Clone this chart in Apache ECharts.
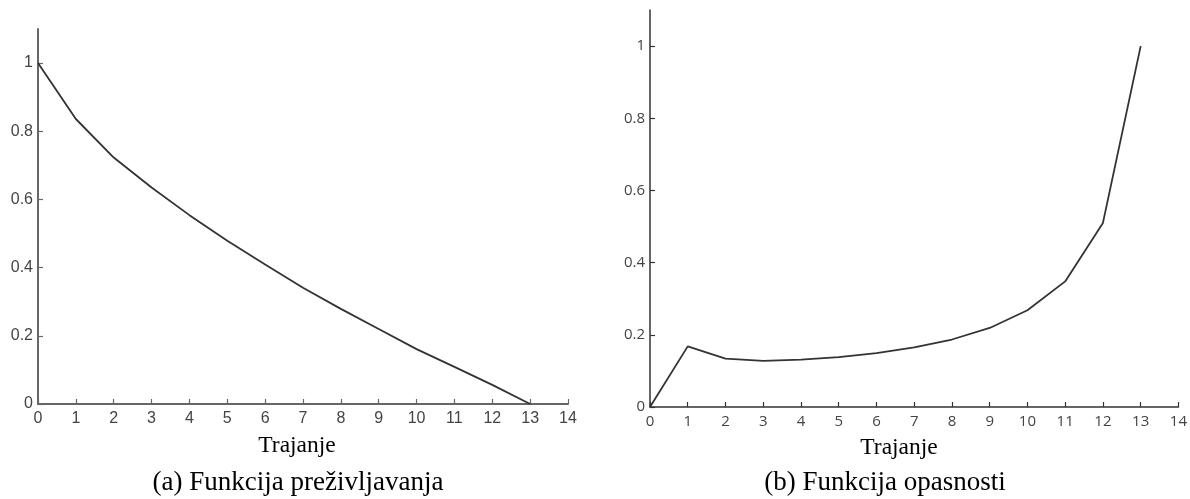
<!DOCTYPE html>
<html>
<head>
<meta charset="utf-8">
<script src="https://cdn.jsdelivr.net/npm/echarts@6/dist/echarts.min.js"></script>
<style>html,body{margin:0;padding:0;background:#fff}#c{width:1190px;height:499px}</style>
</head>
<body>
<div id="c"></div>
<script>
const durations = [0,1,2,3,4,5,6,7,8,9,10,11,12,13];
const survival = [1, 0.836, 0.723, 0.635, 0.554, 0.479, 0.409, 0.341, 0.279, 0.220, 0.161, 0.109, 0.056, 0];
const hazard = [0, 0.168, 0.134, 0.128, 0.131, 0.138, 0.149, 0.165, 0.187, 0.219, 0.268, 0.348, 0.510, 1.0];
const yTicks = [0, 0.2, 0.4, 0.6, 0.8, 1];
const xTicks = [0,1,2,3,4,5,6,7,8,9,10,11,12,13,14];
const xTitle = 'Trajanje';
const captionA = '(a) Funkcija preživljavanja';
const captionB = '(b) Funkcija opasnosti';

const chart = echarts.init(document.getElementById('c'));
function xAx(grid, font, size, axisColor, axisW) {
  return {
    type: 'value', gridIndex: grid, min: 0, max: 14, interval: 1,
    axisLine: { lineStyle: { color: axisColor, width: axisW } },
    axisTick: { inside: true, length: 5, lineStyle: { color: axisColor, width: 1.2 }, customValues: xTicks },
    axisLabel: { color: '#444', fontFamily: font, fontSize: size, margin: 7, customValues: xTicks },
    splitLine: { show: false }
  };
}
function yAx(grid, font, size, axisColor, axisW) {
  return {
    type: 'value', gridIndex: grid, min: 0, max: 1.1,
    axisLine: { show: true, lineStyle: { color: axisColor, width: axisW } },
    axisTick: { show: true, inside: true, length: 5, lineStyle: { color: axisColor, width: 1.2 }, customValues: yTicks },
    axisLabel: { color: '#444', fontFamily: font, fontSize: size, margin: 5, customValues: yTicks },
    splitLine: { show: false }
  };
}
const serif = '"Liberation Serif", "Times New Roman", serif';
const sansA = '"Liberation Sans", Arial, sans-serif';
const sansB = '"Open Sans", sans-serif';
chart.setOption({
  animation: false,
  grid: [
    { left: 38, top: 29, width: 530, height: 375 },
    { left: 650, top: 10, width: 530, height: 397 }
  ],
  xAxis: [xAx(0, sansA, 16, '#666', 2), xAx(1, sansB, 15, '#333', 1.5)],
  yAxis: [yAx(0, sansA, 16, '#666', 2), yAx(1, sansB, 15, '#333', 1.5)],
  series: [
    { type: 'line', xAxisIndex: 0, yAxisIndex: 0, data: durations.map((d, i) => [d, survival[i]]),
      showSymbol: false, lineStyle: { color: '#333', width: 1.8 } },
    { type: 'line', xAxisIndex: 1, yAxisIndex: 1, data: durations.map((d, i) => [d, hazard[i]]),
      showSymbol: false, lineStyle: { color: '#333', width: 1.8 } }
  ],
  graphic: [
    { type: 'text', x: 297, y: 446, style: { text: xTitle, font: '23.5px ' + serif, fill: '#000', align: 'center', verticalAlign: 'middle' } },
    { type: 'text', x: 899, y: 448, style: { text: xTitle, font: '23.5px ' + serif, fill: '#000', align: 'center', verticalAlign: 'middle' } },
    { type: 'text', x: 298, y: 483, style: { text: captionA, font: '27px ' + serif, fill: '#000', align: 'center', verticalAlign: 'middle' } },
    { type: 'text', x: 885, y: 483, style: { text: captionB, font: '27px ' + serif, fill: '#000', align: 'center', verticalAlign: 'middle' } }
  ]
});
</script>
</body>
</html>
